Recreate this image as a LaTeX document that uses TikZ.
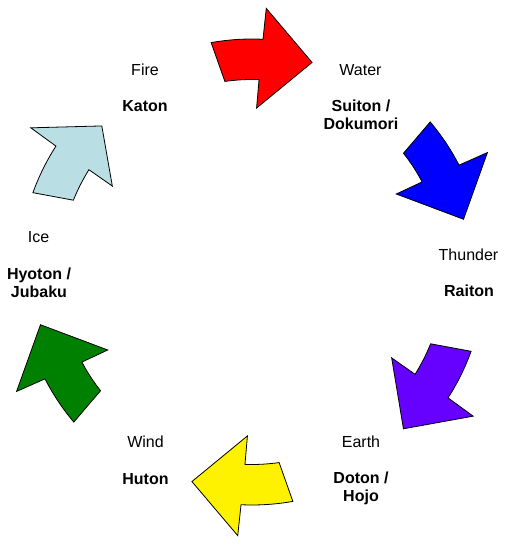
\documentclass[tikz,border=0pt]{standalone}
\usepackage{fontspec}
\setmainfont{Liberation Sans}
\usetikzlibrary{calc}
\definecolor{iceblue}{RGB}{185,222,228}
\definecolor{thunderviolet}{RGB}{102,0,255}
\definecolor{windgreen}{RGB}{0,128,0}

\begin{document}
\begin{tikzpicture}[x=1pt, y=1pt,
    element/.style={font=\fontsize{16}{18}\selectfont, anchor=base, align=center},
    jutsu/.style={element, font=\fontsize{16}{18}\selectfont\bfseries},
    cyclearrow/.style={draw=black, line width=0.8pt, line join=miter}
]
    \useasboundingbox (0,0) rectangle (511,551);
    \coordinate (c) at (252,279);

    % Curved arrows around the cycle
    \foreach \a/\col/\ta/\tr in {87.5/red/13.5/218, 27.5/blue/13.5/218,
        -32.5/thunderviolet/13.5/218, -92.5/yellow/13.5/218,
        -152.5/windgreen/13.5/218, 147.5/iceblue/11.7/209.5}
      \draw[cyclearrow, fill=\col, shift={(c)}]
        (\a+12.6:233) arc[start angle=\a+12.6, end angle=\a-0.2, radius=233]
        -- (\a-0.6:264) -- (\a-\ta:\tr) -- (\a+0.9:164) -- (\a+0.4:192.5)
        arc[start angle=\a+0.4, end angle=\a+10.6, radius=192.5] -- cycle;

    % Element names and jutsu (base = last line)
    \node[element] (fire) at (145,475) {Fire};
    \node[jutsu] (katon) at (145,439) {Katon};
    \node[element] (water) at (360.5,475.5) {Water};
    \node[jutsu] (suiton) at (361,421) {Suiton /\\Dokumori};
    \node[element] (thunder) at (468.5,290) {Thunder};
    \node[jutsu] (raiton) at (469,254) {Raiton};
    \node[element] (earth) at (361,103) {Earth};
    \node[jutsu] (doton) at (361,49.5) {Doton /\\Hojo};
    \node[element] (wind) at (145.5,103) {Wind};
    \node[jutsu] (huton) at (145.5,66) {Huton};
    \node[element] (ice) at (38.5,308) {Ice};
    \node[jutsu] (hyoton) at (39,253) {Hyoton /\\Jubaku};
\end{tikzpicture}
\end{document}
